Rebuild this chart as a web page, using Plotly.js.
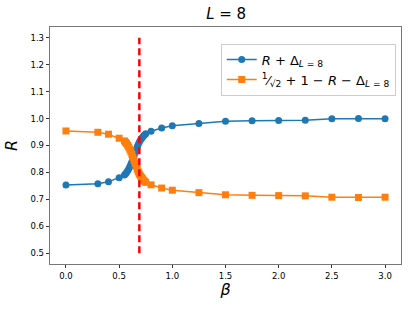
<!DOCTYPE html>
<html>
<head>
<meta charset="utf-8">
<script src="https://cdn.plot.ly/plotly-3.0.1.min.js"></script>
<style>html,body{margin:0;padding:0;background:#fff;}#chart{width:415px;height:311px;}</style>
</head>
<body>
<div id="chart"></div>
<script>
const beta = [0, 0.3, 0.4, 0.5,
  0.55, 0.56, 0.57, 0.58, 0.59, 0.60, 0.61, 0.62, 0.63, 0.64, 0.65,
  0.66, 0.67, 0.68, 0.69, 0.70, 0.71, 0.72, 0.73, 0.74, 0.75,
  0.8, 0.9, 1.0, 1.25, 1.5, 1.75, 2.0, 2.25, 2.5, 2.75, 3.0];
const rPlusDelta = [0.753, 0.758, 0.765, 0.780,
  0.790, 0.795, 0.800, 0.806, 0.813, 0.821, 0.830, 0.840, 0.851, 0.862, 0.873,
  0.884, 0.895, 0.905, 0.913, 0.920, 0.926, 0.931, 0.936, 0.940, 0.944,
  0.953, 0.965, 0.973, 0.982, 0.990, 0.992, 0.993, 0.994, 0.9995, 1.000, 0.999];
const complement = [0.954, 0.949, 0.942, 0.927,
  0.917, 0.912, 0.907, 0.901, 0.894, 0.886, 0.877, 0.867, 0.856, 0.845, 0.834,
  0.823, 0.812, 0.802, 0.794, 0.787, 0.781, 0.776, 0.771, 0.767, 0.763,
  0.754, 0.742, 0.734, 0.725, 0.717, 0.715, 0.714, 0.713, 0.708, 0.707, 0.708];
const errBlue = beta.map(() => 0.003);
const errOrange = beta.map(() => 0.003);
const betaCritical = [0.69, 0.69];
const vlineY = [0.5, 1.3];
const xTicks = [0, 0.5, 1.0, 1.5, 2.0, 2.5, 3.0];
const xTickText = ['0.0', '0.5', '1.0', '1.5', '2.0', '2.5', '3.0'];
const yTicks = [0.5, 0.6, 0.7, 0.8, 0.9, 1.0, 1.1, 1.2, 1.3];
const yTickText = ['0.5', '0.6', '0.7', '0.8', '0.9', '1.0', '1.1', '1.2', '1.3'];

const font = 'DejaVu Sans, sans-serif';
const traces = [
  {
    x: beta, y: rPlusDelta, type: 'scatter', mode: 'lines+markers',
    name: '<i>R</i> + Δ<sub><i>L</i> = 8</sub>',
    line: {color: '#1f77b4', width: 1.5},
    marker: {color: '#1f77b4', symbol: 'circle', size: 7},
    error_y: {type: 'data', array: errBlue, visible: true, color: '#1f77b4', thickness: 1.5, width: 2}
  },
  {
    x: beta, y: complement, type: 'scatter', mode: 'lines+markers',
    name: '<sup>1</sup>⁄<sub>√2</sub> + 1 − <i>R</i> − Δ<sub><i>L</i> = 8</sub>',
    line: {color: '#ff7f0e', width: 1.5},
    marker: {color: '#ff7f0e', symbol: 'square', size: 7},
    error_y: {type: 'data', array: errOrange, visible: true, color: '#ff7f0e', thickness: 1.5, width: 2}
  },
  {
    x: betaCritical, y: vlineY, type: 'scatter', mode: 'lines',
    line: {color: '#ff0000', width: 2.5, dash: '7px,4px'},
    showlegend: false, hoverinfo: 'skip'
  }
];

const layout = {
  width: 415, height: 311,
  margin: {l: 49.5, r: 14, t: 27, b: 47, pad: 0},
  paper_bgcolor: '#fff', plot_bgcolor: '#fff',
  font: {family: font, color: '#000'},
  title: {text: '<i>L</i> = 8', font: {family: font, size: 15, color: '#000'}, x: 0.545, xanchor: 'center', y: 0.955, yanchor: 'middle'},
  xaxis: {
    range: [-0.15, 3.15], tickvals: xTicks, ticktext: xTickText,
    ticks: 'outside', ticklen: 3.5, tickwidth: 0.8, tickcolor: '#000',
    tickfont: {family: font, size: 8.5, color: '#000'},
    showgrid: false, zeroline: false, showline: true, mirror: true, linecolor: '#555', linewidth: 0.8,
    title: {text: '<i>β</i>', font: {family: font, size: 16, color: '#000'}, standoff: 4}
  },
  yaxis: {
    range: [0.46, 1.34], tickvals: yTicks, ticktext: yTickText,
    ticks: 'outside', ticklen: 3.5, tickwidth: 0.8, tickcolor: '#000',
    tickfont: {family: font, size: 8.5, color: '#000'},
    showgrid: false, zeroline: false, showline: true, mirror: true, linecolor: '#555', linewidth: 0.8,
    title: {text: '<i>R</i>', font: {family: font, size: 16, color: '#000'}, standoff: 8}
  },
  legend: {
    x: 0.985, y: 0.93, xanchor: 'right', yanchor: 'top',
    bgcolor: 'rgba(255,255,255,0.8)', bordercolor: '#ccc', borderwidth: 1,
    font: {family: font, size: 13, color: '#000'},
    tracegroupgap: 0, itemwidth: 30
  },
  showlegend: true
};

Plotly.newPlot('chart', traces, layout, {displayModeBar: false, staticPlot: true});
</script>
</body>
</html>
